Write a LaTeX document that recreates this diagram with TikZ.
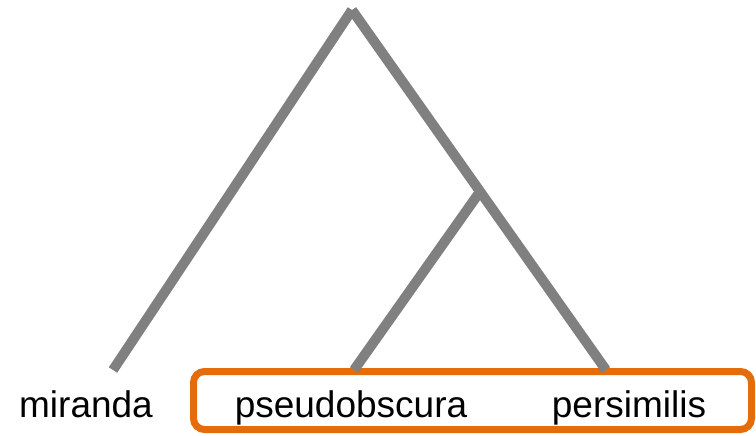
\documentclass[tikz,border=0pt]{standalone}
\usepackage{fontspec}
\setmainfont{Liberation Sans}
\usetikzlibrary{positioning,calc}
\definecolor{branchgray}{RGB}{128,128,128}
\definecolor{cladeorange}{RGB}{228,108,10}

\begin{document}
\begin{tikzpicture}[
  x=1pt, y=-1pt,
  font=\fontsize{37}{40}\selectfont,
  br/.style={draw=branchgray, line width=10pt, line cap=butt},
  lab/.style={anchor=base, inner sep=0pt},
  clade/.style={draw=cladeorange, line width=7pt, rounded corners=11pt}
]
\useasboundingbox (0,0) rectangle (756,436);

% Tree points
\coordinate (root) at (352,10);
\coordinate (anc) at (479,193);
\coordinate (mir) at (113,370);
\coordinate (pse) at (354,370);
\coordinate (per) at (606,370);

% Highlight box
\draw[clade] (193.5,371.5) rectangle (751.5,429.5);

% Branches
\draw[br] (mir) -- (root);
\draw[br] (root) -- (per);
\draw[br] (anc) -- (pse);

% Labels
\node[lab] (lmir) at (86,417) {miranda};
\node[lab] (lpse) at (351,417) {pseudobscura};
\node[lab] (lper) at (629,417) {persimilis};
\end{tikzpicture}
\end{document}
